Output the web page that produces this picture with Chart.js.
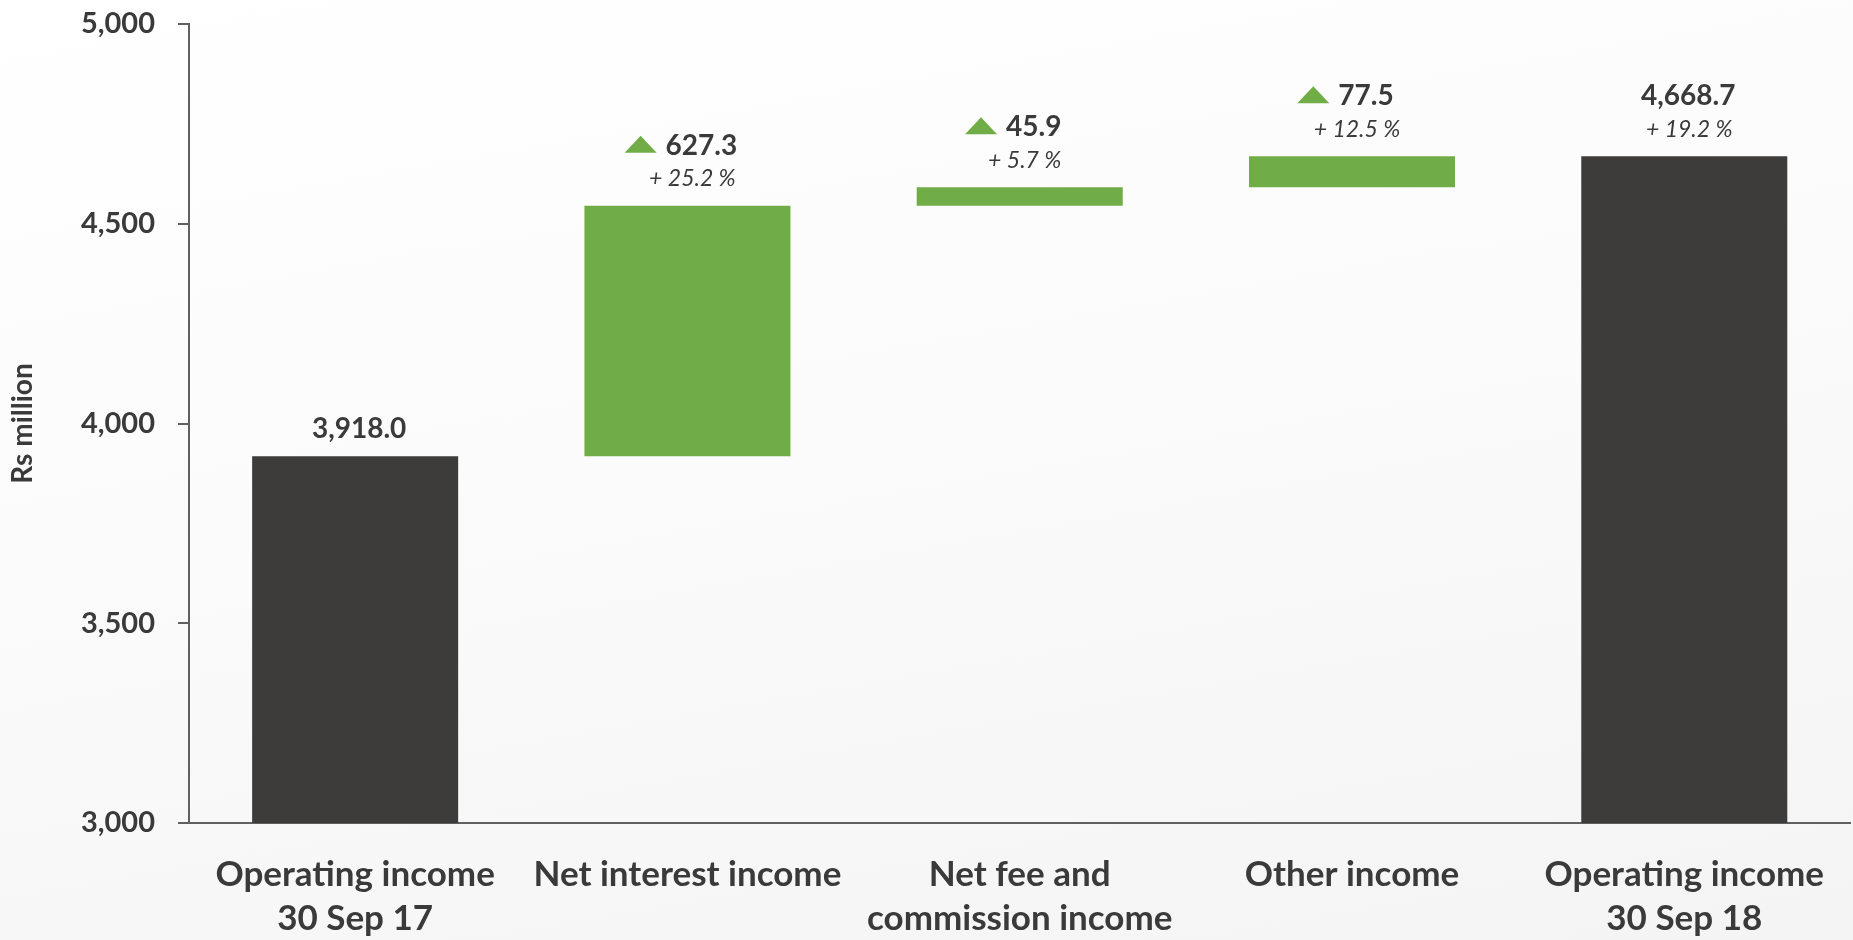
<!DOCTYPE html>
<html lang="en">
<head>
    <meta charset="UTF-8">
    <title>Operating income bridge</title>
    <script src="https://cdn.jsdelivr.net/npm/chart.js@4.4.1/dist/chart.umd.min.js"></script>
    <style>
        html, body {
            margin: 0;
            padding: 0;
            width: 1853px;
            height: 940px;
            overflow: hidden;
            background: linear-gradient(170deg, #ffffff 0%, #fbfbfb 45%, #f4f4f4 100%);
            font-family: Lato, sans-serif;
        }
        #wrap {
            position: relative;
            width: 1853px;
            height: 940px;
        }
    </style>
</head>
<body>

<div id="wrap">
    <canvas id="bridgeChart"></canvas>
</div>

<script>
    // chart data
    const categories = [
        ['Operating income', '30 Sep 17'],
        'Net interest income',
        ['Net fee and', 'commission income'],
        'Other income',
        ['Operating income', '30 Sep 18']
    ];
    const amounts = [3918.0, 627.3, 45.9, 77.5, 4668.7];
    const kinds = ['total', 'increase', 'increase', 'increase', 'total'];
    const changeLabels = ['', '+ 25.2 %', '+ 5.7 %', '+ 12.5 %', '+ 19.2 %'];
    const yTicks = [3000, 3500, 4000, 4500, 5000];

    const yMin = yTicks[0];
    const yMax = yTicks[yTicks.length - 1];

    // build floating bars: totals start at the axis floor, increases stack on the running sum
    let running = 0;
    const ranges = amounts.map((v, i) => {
        if (kinds[i] === 'total') {
            running = v;
            return [yMin, v];
        }
        const start = running;
        running = running + v;
        return [start, running];
    });

    const textColor = '#3a3a3a';
    const green = '#70ad47';
    const dark = '#3d3c3b';

    const fmt = v => v.toLocaleString('en-US', { minimumFractionDigits: 1, maximumFractionDigits: 1 });

    // value + change labels above the bars
    const labelPlugin = {
        id: 'bridgeLabels',
        afterDatasetsDraw(chart) {
            const ctx = chart.ctx;
            const meta = chart.getDatasetMeta(0);
            ctx.save();
            ctx.textAlign = 'center';
            ctx.textBaseline = 'middle';
            meta.data.forEach((bar, i) => {
                const top = bar.y;
                const hasChange = changeLabels[i] !== '';
                const cx = bar.x + (kinds[i] === 'increase' ? 14 : 4);
                const valueY = hasChange ? top - 60 : top - 27;
                const text = fmt(amounts[i]);

                ctx.font = 'bold 28px Lato';
                ctx.fillStyle = textColor;
                ctx.fillText(text, cx, valueY);

                if (kinds[i] === 'increase') {
                    const w = ctx.measureText(text).width;
                    const right = cx - w / 2 - 9;
                    ctx.beginPath();
                    ctx.moveTo(right - 32, valueY + 7);
                    ctx.lineTo(right, valueY + 7);
                    ctx.lineTo(right - 16, valueY - 10);
                    ctx.closePath();
                    ctx.fillStyle = green;
                    ctx.fill();
                }

                if (hasChange) {
                    ctx.font = 'italic 23px Lato';
                    ctx.fillStyle = textColor;
                    ctx.fillText(changeLabels[i], bar.x + 5, top - 27);
                }
            });
            ctx.restore();
        }
    };

    new Chart(document.getElementById('bridgeChart'), {
        type: 'bar',
        data: {
            labels: categories,
            datasets: [{
                data: ranges,
                backgroundColor: kinds.map(k => k === 'total' ? dark : green),
                borderWidth: 0,
                borderSkipped: false,
                categoryPercentage: 1.0,
                barPercentage: 0.62
            }]
        },
        options: {
            responsive: true,
            maintainAspectRatio: false,
            animation: false,
            layout: {
                padding: { top: 24, right: 0, bottom: 0, left: 0 }
            },
            plugins: {
                legend: { display: false },
                tooltip: { enabled: false }
            },
            scales: {
                x: {
                    grid: { display: false, drawTicks: false },
                    border: { display: true, color: '#606060', width: 2 },
                    ticks: {
                        color: textColor,
                        padding: 29,
                        maxRotation: 0,
                        autoSkip: false,
                        font: { family: 'Lato', weight: 'bold', size: 35, lineHeight: 1.28 }
                    },
                    afterFit(scale) { scale.height = 117; }
                },
                y: {
                    min: yMin,
                    max: yMax,
                    afterBuildTicks(scale) {
                        scale.ticks = yTicks.map(v => ({ value: v }));
                    },
                    grid: {
                        drawOnChartArea: false,
                        drawTicks: true,
                        tickLength: 11,
                        color: '#606060',
                        lineWidth: 2
                    },
                    border: { display: true, color: '#606060', width: 2 },
                    ticks: {
                        color: textColor,
                        padding: 23,
                        font: { family: 'Lato', weight: 'bold', size: 29 },
                        callback: v => v.toLocaleString('en-US')
                    },
                    title: {
                        display: true,
                        text: 'Rs million',
                        color: textColor,
                        padding: { top: 6, bottom: 0 },
                        font: { family: 'Lato', weight: 'bold', size: 28 }
                    },
                    afterFit(scale) {
                        scale.width = 189;
                        scale.paddingTop = 0;
                        scale.paddingBottom = 0;
                    }
                }
            }
        },
        plugins: [labelPlugin]
    });
</script>

</body>
</html>
